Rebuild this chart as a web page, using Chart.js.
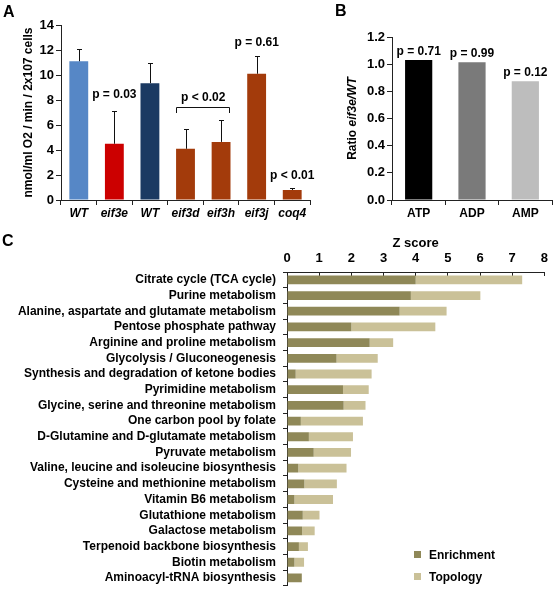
<!DOCTYPE html>
<html>
<head>
<meta charset="utf-8">
<script src="https://cdn.jsdelivr.net/npm/chart.js@4/dist/chart.umd.min.js"></script>
<style>
  body { margin: 0; background: #fff; }
  #wrap { position: relative; width: 558px; height: 600px; overflow: hidden;
          font-family: 'Liberation Sans', Arial, sans-serif; font-weight: bold; color: #000; }
  canvas { position: absolute; }
  .panel { position: absolute; font-size: 16px; line-height: 16px; }
  .legtxt { position: absolute; font-size: 12px; line-height: 12px; }
  .legbox { position: absolute; width: 7px; height: 7px; }
</style>
</head>
<body>
<div id="wrap">
  <canvas id="chartA" width="330" height="225" style="left:0;top:0"></canvas>
  <canvas id="chartB" width="228" height="225" style="left:330px;top:0"></canvas>
  <canvas id="chartC" width="558" height="370" style="left:0;top:230px"></canvas>
  <div class="panel" style="left:3px;top:4px">A</div>
  <div class="panel" style="left:335px;top:3px">B</div>
  <div class="panel" style="left:2px;top:233px">C</div>
  <div class="legbox" style="left:414px;top:551px;background:#8f8858"></div>
  <div class="legtxt" style="left:429px;top:549px">Enrichment</div>
  <div class="legbox" style="left:414px;top:573px;background:#cac198"></div>
  <div class="legtxt" style="left:429px;top:571px">Topology</div>
</div>
<script>
//Datos panel A (consumo de O2)
const respLabels = ['WT', 'eif3e', 'WT', 'eif3d', 'eif3h', 'eif3j', 'coq4'];
const respValues = [11.1, 4.5, 9.35, 4.1, 4.65, 10.1, 0.8];
const respErrTop = [12.1, 7.1, 11.0, 5.7, 6.4, 11.55, 0.95];
const respColors = ['#5687c6', '#cc0000', '#1b3a62', '#a33b0b', '#a33b0b', '#a33b0b', '#a33b0b'];
const respNotes = [
  { text: 'p = 0.03', from: 1, to: 1, y: 8.45 },
  { text: 'p < 0.02', from: 3, to: 4, y: 8.2 },
  { text: 'p = 0.61', from: 5, to: 5, y: 12.55 },
  { text: 'p < 0.01', from: 6, to: 6, y: 1.95 }
];

//Datos panel B (ATP / ADP / AMP)
const nucLabels = ['ATP', 'ADP', 'AMP'];
const nucRatio = [1.03, 1.015, 0.875];
const nucColors = ['#000000', '#7a7a7a', '#bdbdbd'];
const nucPvals = ['p = 0.71', 'p = 0.99', 'p = 0.12'];

//Datos panel C (rutas metabolicas)
const pathways = [
  'Citrate cycle (TCA cycle)',
  'Purine metabolism',
  'Alanine, aspartate and glutamate metabolism',
  'Pentose phosphate pathway',
  'Arginine and proline metabolism',
  'Glycolysis / Gluconeogenesis',
  'Synthesis and degradation of ketone bodies',
  'Pyrimidine metabolism',
  'Glycine, serine and threonine metabolism',
  'One carbon pool by folate',
  'D-Glutamine and D-glutamate metabolism',
  'Pyruvate metabolism',
  'Valine, leucine and isoleucine biosynthesis',
  'Cysteine and methionine metabolism',
  'Vitamin B6 metabolism',
  'Glutathione metabolism',
  'Galactose metabolism',
  'Terpenoid backbone biosynthesis',
  'Biotin metabolism',
  'Aminoacyl-tRNA biosynthesis'
];
const enrichment = [4.0, 3.85, 3.5, 2.0, 2.57, 1.54, 0.27, 1.74, 1.76, 0.43, 0.68, 0.83, 0.35, 0.54, 0.23, 0.49, 0.47, 0.37, 0.23, 0.46];
const topology = [3.31, 2.16, 1.46, 2.61, 0.73, 1.28, 2.36, 0.8, 0.68, 1.93, 1.37, 1.16, 1.5, 1.01, 1.2, 0.52, 0.39, 0.28, 0.3, 0];

const FONT = "'Liberation Sans', Arial, sans-serif";
Chart.defaults.font.family = FONT;
Chart.defaults.font.weight = 'bold';
Chart.defaults.color = '#000';

const axisLine = '#222';

//Barras de error y valores p del panel A
const extrasA = {
  id: 'extrasA',
  afterDatasetsDraw(chart) {
    const { ctx, scales: { x, y } } = chart;
    ctx.save();
    ctx.strokeStyle = '#111';
    ctx.lineWidth = 1;
    respErrTop.forEach((e, i) => {
      const px = Math.round(x.getPixelForValue(i)) + 0.5;
      const y0 = y.getPixelForValue(respValues[i]);
      const y1 = Math.round(y.getPixelForValue(e)) + 0.5;
      ctx.beginPath();
      ctx.moveTo(px, y0);
      ctx.lineTo(px, y1);
      ctx.moveTo(px - 2.5, y1);
      ctx.lineTo(px + 2.5, y1);
      ctx.stroke();
    });

    ctx.fillStyle = '#000';
    ctx.font = 'bold 12px ' + FONT;
    ctx.textAlign = 'center';
    ctx.textBaseline = 'middle';
    respNotes.forEach(n => {
      const cx = (x.getPixelForValue(n.from) + x.getPixelForValue(n.to)) / 2;
      ctx.fillText(n.text, cx, y.getPixelForValue(n.y));
      if (n.to > n.from) {
        //corchete
        const xl = Math.round(x.getPixelForValue(n.from)) - 9.5;
        const xr = Math.round(x.getPixelForValue(n.to)) + 8.5;
        const yt = Math.round(y.getPixelForValue(7.44)) + 0.5;
        const yb = y.getPixelForValue(6.96);
        ctx.beginPath();
        ctx.moveTo(xl, yb);
        ctx.lineTo(xl, yt);
        ctx.lineTo(xr, yt);
        ctx.lineTo(xr, yb);
        ctx.stroke();
      }
    });
    ctx.restore();
  }
};

//Titulo con cursiva y valores p del panel B
const extrasB = {
  id: 'extrasB',
  afterDatasetsDraw(chart) {
    const { ctx, chartArea, scales: { x, y } } = chart;
    ctx.save();
    ctx.fillStyle = '#000';
    ctx.font = 'bold 12px ' + FONT;
    ctx.textAlign = 'center';
    ctx.textBaseline = 'middle';
    nucPvals.forEach((t, i) => {
      ctx.fillText(t, x.getPixelForValue(i), y.getPixelForValue(nucRatio[i]) - 8.5);
    });

    const part1 = 'Ratio ';
    const part2 = 'eif3e/WT';
    ctx.font = 'bold 12px ' + FONT;
    const w1 = ctx.measureText(part1).width;
    ctx.font = 'italic bold 12px ' + FONT;
    const w2 = ctx.measureText(part2).width;
    const cy = (chartArea.top + chartArea.bottom) / 2;
    ctx.translate(23, cy);
    ctx.rotate(-Math.PI / 2);
    ctx.textAlign = 'left';
    ctx.font = 'bold 12px ' + FONT;
    ctx.fillText(part1, -(w1 + w2) / 2, 0);
    ctx.font = 'italic bold 12px ' + FONT;
    ctx.fillText(part2, -(w1 + w2) / 2 + w1, 0);
    ctx.restore();
  }
};

//Grafica A
new Chart(document.getElementById('chartA'), {
  type: 'bar',
  data: {
    labels: respLabels,
    datasets: [{
      data: respValues,
      backgroundColor: respColors,
      barPercentage: 0.53,
      categoryPercentage: 1
    }]
  },
  options: {
    responsive: false,
    animation: false,
    layout: { padding: { top: 25, right: 20, left: 0, bottom: 0 } },
    plugins: { legend: { display: false }, tooltip: { enabled: false } },
    scales: {
      x: {
        grid: { drawOnChartArea: false, tickLength: 5, color: axisLine },
        border: { color: axisLine },
        ticks: { font: { size: 12, style: 'italic', weight: 'bold' }, padding: 1, maxRotation: 0, autoSkip: false },
        afterFit: s => { s.height = 25; }
      },
      y: {
        min: 0,
        max: 14,
        ticks: { stepSize: 2, font: { size: 13, weight: 'bold' }, padding: 2 },
        grid: { drawOnChartArea: false, tickLength: 5, color: axisLine },
        border: { color: axisLine },
        title: {
          display: true,
          text: 'nmol/ml O2 / min / 2x107 cells',
          font: { size: 12, weight: 'bold' },
          padding: { top: 21, bottom: 0 }
        },
        afterFit: s => { s.width = 61; }
      }
    }
  },
  plugins: [extrasA]
});

//Grafica B
new Chart(document.getElementById('chartB'), {
  type: 'bar',
  data: {
    labels: nucLabels,
    datasets: [{
      data: nucRatio,
      backgroundColor: nucColors,
      barPercentage: 0.51,
      categoryPercentage: 1
    }]
  },
  options: {
    responsive: false,
    animation: false,
    layout: { padding: { top: 37, right: 6, left: 0, bottom: 0 } },
    plugins: { legend: { display: false }, tooltip: { enabled: false } },
    scales: {
      x: {
        grid: { drawOnChartArea: false, tickLength: 5, color: axisLine },
        border: { color: axisLine },
        ticks: { font: { size: 12, weight: 'bold' }, padding: 1, maxRotation: 0 },
        afterFit: s => { s.height = 25; }
      },
      y: {
        min: 0,
        max: 1.2,
        ticks: { stepSize: 0.2, font: { size: 13, weight: 'bold' }, padding: 2,
                 callback: v => v.toFixed(1) },
        grid: { drawOnChartArea: false, tickLength: 5, color: axisLine },
        border: { color: axisLine },
        afterFit: s => { s.width = 62; }
      }
    }
  },
  plugins: [extrasB]
});

//Grafica C
new Chart(document.getElementById('chartC'), {
  type: 'bar',
  data: {
    labels: pathways,
    datasets: [{
      label: 'Enrichment',
      data: enrichment,
      backgroundColor: '#8f8858',
      barPercentage: 0.56,
      categoryPercentage: 1
    }, {
      label: 'Topology',
      data: topology,
      backgroundColor: '#cac198',
      barPercentage: 0.56,
      categoryPercentage: 1
    }]
  },
  options: {
    indexAxis: 'y',
    responsive: false,
    animation: false,
    layout: { padding: { top: 0, right: 8, left: 0, bottom: 4.5 } },
    plugins: { legend: { display: false }, tooltip: { enabled: false } },
    scales: {
      x: {
        position: 'top',
        stacked: true,
        min: 0,
        max: 8,
        ticks: { stepSize: 1, font: { size: 13, weight: 'bold' }, padding: 10 },
        grid: { drawOnChartArea: false, tickLength: -4, color: axisLine },
        border: { color: axisLine },
        title: { display: true, text: 'Z score', font: { size: 13, weight: 'bold' }, padding: { top: 6, bottom: 0 } },
        afterFit: s => { s.height = 42; }
      },
      y: {
        stacked: true,
        ticks: { font: { size: 12, weight: 'bold' }, padding: 7, autoSkip: false },
        grid: { drawOnChartArea: false, tickLength: 4, color: axisLine },
        border: { color: axisLine },
        afterFit: s => { s.width = 287; }
      }
    }
  }
});
</script>
</body>
</html>
